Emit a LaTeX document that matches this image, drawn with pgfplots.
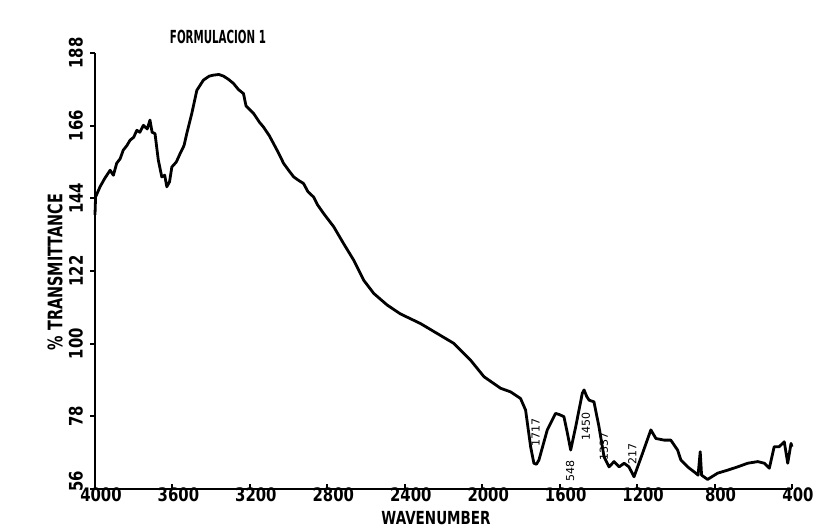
\documentclass[border=0pt]{standalone}
\usepackage{fontspec}
\setmainfont{DejaVu Sans}
\usepackage{pgfplots}
\pgfplotsset{compat=1.18}
\begin{document}
\begin{tikzpicture}
\useasboundingbox (0,0) rectangle (419.5pt,263.5pt);
\begin{axis}[
  at={(47.5pt,19pt)}, anchor=south west,
  scale only axis, width=348.5pt, height=218pt,
  x dir=reverse,
  xmin=400, xmax=4000, ymin=56, ymax=188,
  xtick={4000,3600,3200,2800,2400,2000,1600,1200,800,400},
  ytick={56,78,100,122,144,166,188},
  xticklabel={\scalebox{0.8}[1]{\pgfmathprintnumber{\tick}}},
  yticklabels={\hspace*{8pt}\scalebox{0.8}[1]{56},\scalebox{0.8}[1]{78},\scalebox{0.8}[1]{100},\scalebox{0.8}[1]{122},\scalebox{0.8}[1]{144},\scalebox{0.8}[1]{166},\scalebox{0.8}[1]{188}},
  axis lines=left,
  axis line style={-, line width=1.4pt},
  xtick align=inside, ytick align=outside,
  major tick length=2.5pt,
  tick style={line width=1pt, black},
  /pgf/number format/assume math mode=true,
  /pgf/number format/1000 sep={},
  tick label style={font=\bfseries\fontsize{9.3}{10}\selectfont},
  xticklabel style={xshift=3pt, yshift=2pt, inner sep=1pt},
  yticklabel style={rotate=90, anchor=south},
  clip=false,
]
\addplot[black, line width=1.4pt, line join=round] coordinates {
(4000,139) (3997,144.4) (3974,147.5) (3950,150) (3922,152.5) (3905,151) (3888,154.6) (3870,156) (3854,158.6) (3835,160) (3819,161.6) (3800,162.5) (3784,164.6) (3768,164) (3750,166.1) (3730,165) (3716,167.7) (3705,164) (3690,163.6) (3673,155.6) (3655,150.5) (3640,151) (3629,147.5) (3615,149) (3603,153.5) (3580,155) (3560,157.6) (3540,160) (3526,163.6) (3500,169.7) (3474,176.7) (3440,179.8) (3410,181) (3388,181.3) (3360,181.5) (3336,181.0) (3310,180) (3285,178.8) (3260,177) (3233,175.7) (3220,172) (3181,169.7) (3150,167) (3130,165.6) (3100,163) (3078,160.6) (3050,157.5) (3026,154.6) (3000,152.5) (2974,150.5) (2950,149.5) (2923,148.5) (2900,146) (2871,144.4) (2850,142) (2819,139.4) (2767,135.4) (2716,130.3) (2664,125.3) (2612,119.2) (2560,115.2) (2491,111.7) (2422,109.0) (2319,106.1) (2233,103.1) (2147,100.1) (2060,95.0) (1991,90.0) (1905,86.5) (1853,85.4) (1802,83.4) (1776,79.9) (1750,68.8) (1733,63.8) (1720,63.5) (1707,64.8) (1664,73.9) (1621,78.9) (1600,78.5) (1578,77.9) (1560,72.9) (1543,67.8) (1517,74.9) (1483,85.0) (1474,86.0) (1460,84) (1448,82.9) (1423,82.4) (1397,74.9) (1371,65.8) (1345,62.7) (1319,64.3) (1293,62.7) (1267,63.8) (1242,62.7) (1216,59.7) (1172,66.8) (1129,73.9) (1103,71.3) (1060,70.8) (1026,70.8) (991,67.8) (974,64.8) (939,62.7) (897,60.8) (885,60.2) (874,67.3) (867,60.2) (836,58.9) (784,60.8) (733,61.7) (681,62.7) (629,63.8) (577,64.3) (543,63.8) (517,62.3) (492,68.8) (466,68.8) (440,70.3) (422,63.8) (405,69.8) (400,68.8)
};
\node[rotate=90, font=\fontsize{5.5}{5.5}\selectfont] at (axis cs:1724,73.2) {1717};
\node[rotate=90, font=\fontsize{5.5}{5.5}\selectfont] at (axis cs:1546,61.4) {548};
\node[rotate=90, font=\fontsize{5.5}{5.5}\selectfont] at (axis cs:1465,74.8) {1450};
\node[rotate=90, font=\fontsize{5.5}{5.5}\selectfont] at (axis cs:1372,69.0) {1337};
\node[rotate=90, font=\fontsize{5.5}{5.5}\selectfont] at (axis cs:1225,66.6) {217};
\end{axis}
\node[font=\bfseries\fontsize{9}{9}\selectfont] at (109pt,245pt) {\scalebox{0.57}[1]{FORMULACION 1}};
\node[rotate=90, font=\bfseries\fontsize{10}{10}\selectfont] at (27.5pt,127.5pt) {\scalebox{0.72}[1]{\% TRANSMITTANCE}};
\node[inner sep=0pt, font=\bfseries\fontsize{9}{9}\selectfont] at (218pt,4.5pt) {\scalebox{0.75}[1]{WAVENUMBER}};
\end{tikzpicture}
\end{document}
